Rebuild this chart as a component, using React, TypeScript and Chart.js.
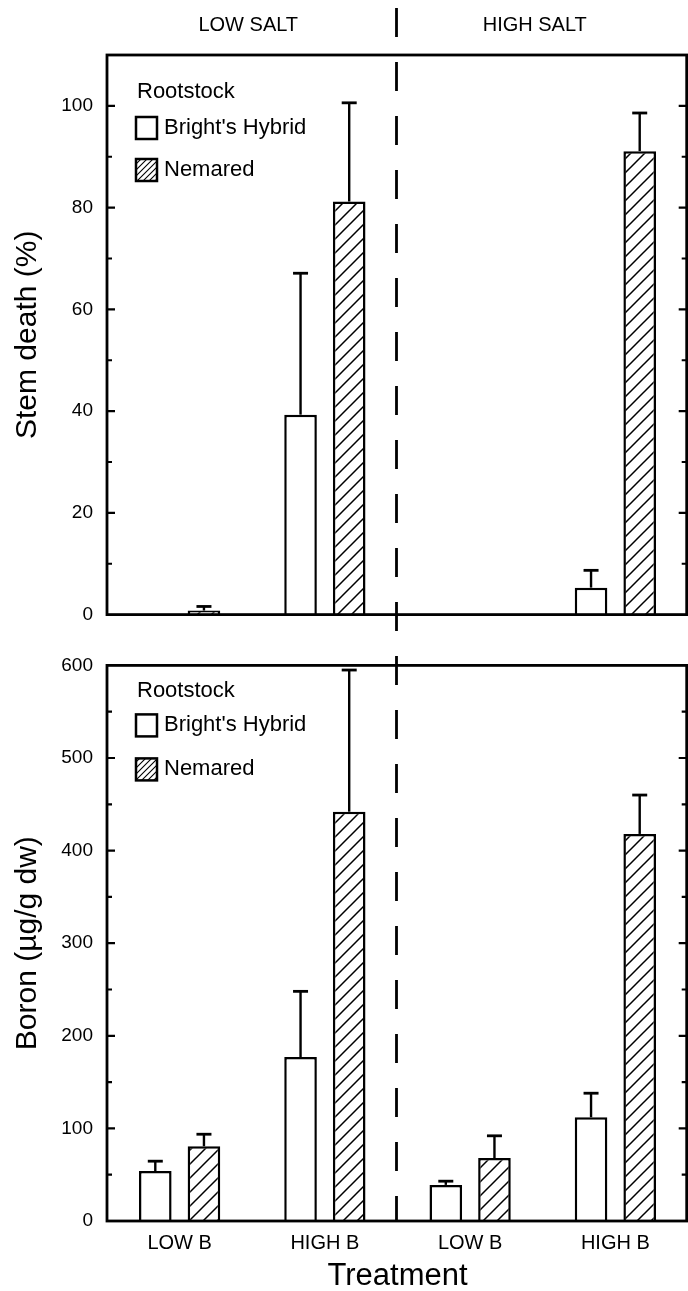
import React, { useEffect, useRef } from 'react';
import { Chart, registerables } from 'chart.js';

Chart.register(...registerables);

// ---------- data ----------
const categories = ['LOW B', 'HIGH B', 'LOW B', 'HIGH B'];
const saltGroups = ['LOW SALT', 'HIGH SALT'];
const seriesNames = ["Bright's Hybrid", 'Nemared'];
const legendTitle = 'Rootstock';
const stemTitle = 'Stem death (%)';
const boronTitle = 'Boron (µg/g dw)';
const xTitle = 'Treatment';

const stemBright = [0, 39.3, 0, 5.3];
const stemBrightErr = [0, 27.8, 0, 3.4];
const stemNemared = [0.8, 81.2, 0, 91.1];
const stemNemaredErr = [0.8, 19.4, 0, 7.5];

const boronBright = [54, 177, 39, 112];
const boronBrightErr = [10.6, 71, 4, 26];
const boronNemared = [80.7, 442, 68, 418];
const boronNemaredErr = [13, 153, 24, 42];

const stemAxis = { max: 110, step: 10, labelEvery: 20 };
const boronAxis = { max: 600, step: 50, labelEvery: 100 };

const FONT = '"Liberation Sans", Arial, Helvetica, sans-serif';
const INK = '#000';

function makeHatch(s: number, lw: number): CanvasPattern {
  const c = document.createElement('canvas');
  c.width = s;
  c.height = s;
  const g = c.getContext('2d')!;
  g.fillStyle = '#fff';
  g.fillRect(0, 0, s, s);
  g.strokeStyle = INK;
  g.lineWidth = lw;
  g.beginPath();
  g.moveTo(-1, s + 1);
  g.lineTo(s + 1, -1);
  g.moveTo(-2, 2);
  g.lineTo(2, -2);
  g.moveTo(s - 2, s + 2);
  g.lineTo(s + 2, s - 2);
  g.stroke();
  return g.createPattern(c, 'repeat')!;
}

const errorBarPlugin = {
  id: 'errorBars',
  afterDatasetsDraw(chart: any) {
    const ctx = chart.ctx;
    const y = chart.scales.y;
    chart.data.datasets.forEach((ds: any, i: number) => {
      const meta = chart.getDatasetMeta(i);
      meta.data.forEach((el: any, j: number) => {
        const v = ds.data[j];
        const e = ds.errors ? ds.errors[j] : 0;
        if (!v || !e) return;
        const yTop = y.getPixelForValue(v + e);
        ctx.save();
        ctx.strokeStyle = INK;
        ctx.lineWidth = 2.4;
        ctx.beginPath();
        ctx.moveTo(el.x, el.y);
        ctx.lineTo(el.x, yTop);
        ctx.stroke();
        ctx.lineWidth = 2.8;
        ctx.beginPath();
        ctx.moveTo(el.x - 7.5, yTop);
        ctx.lineTo(el.x + 7.5, yTop);
        ctx.stroke();
        ctx.restore();
      });
    });
  },
};

const framePlugin = {
  id: 'frame',
  afterDraw(chart: any, _args: any, opts: any) {
    const { ctx, chartArea } = chart;
    const y = chart.scales.y;
    const left = chartArea.left;
    const right = Math.min(chartArea.right, chart.width - 1.3);
    const top = chartArea.top;
    const bottom = chartArea.bottom;
    ctx.save();
    ctx.strokeStyle = INK;
    ctx.lineWidth = 2.8;
    ctx.strokeRect(left, top, right - left, bottom - top);
    // inward ticks
    ctx.lineWidth = 2.2;
    y.ticks.forEach((t: any) => {
      if (t.value <= 0 || t.value >= y.max) return;
      const py = y.getPixelForValue(t.value);
      const len = t.value % opts.labelEvery === 0 ? 8 : 5;
      ctx.beginPath();
      ctx.moveTo(left, py);
      ctx.lineTo(left + len, py);
      ctx.moveTo(right, py);
      ctx.lineTo(right - len, py);
      ctx.stroke();
    });
    ctx.restore();
  },
};

const dividerPlugin = {
  id: 'divider',
  afterDraw(chart: any, _args: any, opts: any) {
    const { ctx } = chart;
    const x = chart.scales.x;
    const px = (x.getPixelForValue(1) + x.getPixelForValue(2)) / 2 - 1;
    const y1 = opts.toAxis ? chart.chartArea.bottom : chart.height;
    ctx.save();
    ctx.strokeStyle = INK;
    ctx.lineWidth = 2.8;
    ctx.setLineDash([29, 25]);
    ctx.lineDashOffset = opts.dashOffset;
    ctx.beginPath();
    ctx.moveTo(px, opts.fromY);
    ctx.lineTo(px, y1);
    ctx.stroke();
    ctx.restore();
  },
};

const groupLabelPlugin = {
  id: 'groupLabels',
  afterDraw(chart: any, _args: any, opts: any) {
    if (!opts.show) return;
    const { ctx } = chart;
    const x = chart.scales.x;
    ctx.save();
    ctx.fillStyle = INK;
    ctx.font = `20px ${FONT}`;
    ctx.textAlign = 'center';
    ctx.textBaseline = 'middle';
    const c0 = (x.getPixelForValue(0) + x.getPixelForValue(1)) / 2 - 4;
    const c1 = (x.getPixelForValue(2) + x.getPixelForValue(3)) / 2 - 8;
    ctx.fillText(saltGroups[0], c0, 25);
    ctx.fillText(saltGroups[1], c1, 25);
    ctx.restore();
  },
};

const legendPlugin = {
  id: 'rootLegend',
  afterDraw(chart: any, _args: any, opts: any) {
    const { ctx, chartArea } = chart;
    const top = chartArea.top;
    const boxX = 136;
    const textX = 164;
    ctx.save();
    ctx.fillStyle = INK;
    ctx.font = `22px ${FONT}`;
    ctx.textAlign = 'left';
    ctx.textBaseline = 'middle';
    ctx.fillText(legendTitle, 137, top + opts.r);
    const rows = [opts.b, opts.n];
    rows.forEach((off: number, i: number) => {
      const cy = top + off;
      const ds = chart.data.datasets[i];
      ctx.fillStyle = i === 0 ? '#fff' : opts.swatch;
      ctx.fillRect(boxX, cy - 11, 21, 22);
      ctx.strokeStyle = INK;
      ctx.lineWidth = 2.5;
      ctx.strokeRect(boxX, cy - 11, 21, 22);
      ctx.fillStyle = INK;
      ctx.fillText(ds.label, textX, cy);
    });
    ctx.restore();
  },
};

function yScale(axis: { max: number; step: number; labelEvery: number }, title: string) {
  return {
    min: 0,
    max: axis.max,
    afterFit: (s: any) => {
      s.width = 107;
    },
    border: { display: false },
    grid: { display: false, drawTicks: false },
    ticks: {
      stepSize: axis.step,
      autoSkip: false,
      padding: 14,
      color: INK,
      font: { family: FONT, size: 19 },
      callback: (v: any) => (Number(v) % axis.labelEvery === 0 ? String(v) : ''),
    },
    title: {
      display: true,
      text: title,
      color: INK,
      font: { family: FONT, size: 30, lineHeight: 1 },
      padding: { top: 13, bottom: 0 },
    },
  };
}

export default function App() {
  const topRef = useRef<HTMLCanvasElement>(null);
  const botRef = useRef<HTMLCanvasElement>(null);

  useEffect(() => {
    const hatch = makeHatch(14, 1.5);
    const swatch = makeHatch(6, 1.1);
    const barStyle = (i: number) => ({
      backgroundColor: i === 0 ? '#fff' : hatch,
      borderColor: INK,
      borderWidth: 2.5,
      categoryPercentage: 0.67,
      barPercentage: 0.67,
    });

    const top = new Chart(topRef.current!, {
      type: 'bar',
      data: {
        labels: categories,
        datasets: [
          { label: seriesNames[0], data: stemBright, errors: stemBrightErr, ...barStyle(0) } as any,
          { label: seriesNames[1], data: stemNemared, errors: stemNemaredErr, ...barStyle(1) } as any,
        ],
      },
      options: {
        responsive: false,
        animation: false,
        layout: { padding: { top: 55, bottom: 19, left: 0, right: 0 } },
        plugins: {
          legend: { display: false },
          tooltip: { enabled: false },
          frame: { labelEvery: stemAxis.labelEvery },
          divider: { fromY: 8, dashOffset: 0, toAxis: false },
          groupLabels: { show: true },
          rootLegend: { r: 37, b: 73, n: 115, swatch },
        } as any,
        scales: {
          x: { display: false },
          y: yScale(stemAxis, stemTitle) as any,
        },
      },
      plugins: [errorBarPlugin, framePlugin, dividerPlugin, groupLabelPlugin, legendPlugin],
    });

    const bottom = new Chart(botRef.current!, {
      type: 'bar',
      data: {
        labels: categories,
        datasets: [
          { label: seriesNames[0], data: boronBright, errors: boronBrightErr, ...barStyle(0) } as any,
          { label: seriesNames[1], data: boronNemared, errors: boronNemaredErr, ...barStyle(1) } as any,
        ],
      },
      options: {
        responsive: false,
        animation: false,
        layout: { padding: { top: 13, bottom: 0, left: 0, right: 0 } },
        plugins: {
          legend: { display: false },
          tooltip: { enabled: false },
          frame: { labelEvery: boronAxis.labelEvery },
          divider: { fromY: 0, dashOffset: 38, toAxis: true },
          groupLabels: { show: false },
          rootLegend: { r: 26, b: 60, n: 104, swatch },
        } as any,
        scales: {
          x: {
            afterFit: (s: any) => {
              s.height = 70;
            },
            border: { display: false },
            grid: { display: false, drawTicks: false },
            ticks: {
              color: INK,
              padding: 10,
              autoSkip: false,
              maxRotation: 0,
              font: { family: FONT, size: 20 },
            },
            title: {
              display: true,
              text: xTitle,
              color: INK,
              font: { family: FONT, size: 31, lineHeight: 1 },
              padding: { top: 0, bottom: -1 },
            },
          },
          y: yScale(boronAxis, boronTitle) as any,
        },
      },
      plugins: [errorBarPlugin, framePlugin, dividerPlugin, legendPlugin],
    });

    return () => {
      top.destroy();
      bottom.destroy();
    };
  }, []);

  return (
    <div
      style={{
        position: 'absolute',
        left: 0,
        top: 0,
        width: 688,
        height: 1291,
        background: '#fff',
        overflow: 'hidden',
      }}
    >
      <canvas ref={topRef} width={688} height={640} style={{ display: 'block' }} />
      <canvas ref={botRef} width={688} height={651} style={{ display: 'block' }} />
    </div>
  );
}
